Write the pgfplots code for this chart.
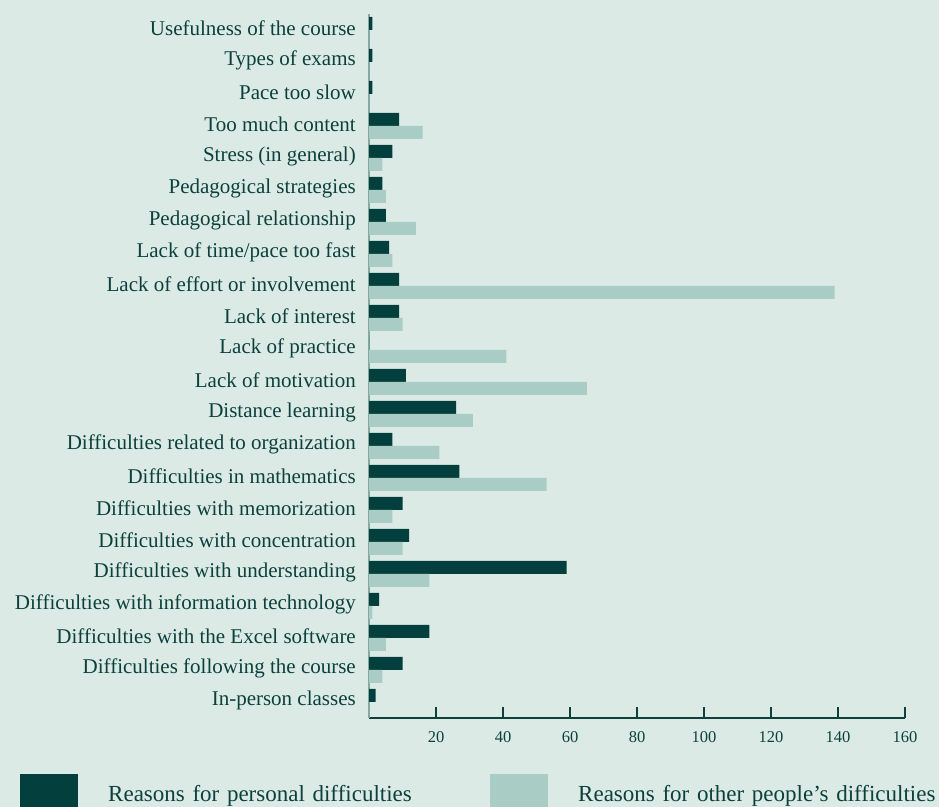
\documentclass[border=0pt]{standalone}
\usepackage{pgfplots}
\pgfplotsset{compat=1.18}
\usepackage{fontspec}
\setmainfont{Liberation Serif}
\definecolor{bg}{HTML}{DCEAE6}
\definecolor{darkbar}{HTML}{033F3C}
\definecolor{lightbar}{HTML}{A9CDC4}
\definecolor{txt}{HTML}{0B403C}
\definecolor{yaxis}{HTML}{86A8A1}
\begin{document}
\begin{tikzpicture}[x=1bp,y=1bp]
\fill[bg] (0,0) rectangle (939,807);
\begin{axis}[
  at={(369bp,89bp)}, anchor=south west,
  scale only axis, width=536bp, height=704bp,
  xbar, bar width=13bp,
  xmin=0, xmax=160, ymin=-0.5, ymax=21.5,
  axis x line*=bottom, axis y line*=left,
  x axis line style={draw=txt, line width=1.3bp, -},
  y axis line style={draw=yaxis, line width=1.3bp, -},
  xtick={20,40,...,160},
  ytick={0,...,21},
  yticklabels={In-person classes,Difficulties following the course,Difficulties with the Excel software,Difficulties with information technology,Difficulties with understanding,Difficulties with concentration,Difficulties with memorization,Difficulties in mathematics,Difficulties related to organization,Distance learning,Lack of motivation,Lack of practice,Lack of interest,Lack of effort or involvement,Lack of time/pace too fast,Pedagogical relationship,Pedagogical strategies,Stress (in general),Too much content,Pace too slow,Types of exams,Usefulness of the course},
  tick align=inside,
  major tick length=11bp,
  x tick style={draw=txt, line width=1.2bp},
  y tick style={draw=none},
  yticklabel style={font=\fontsize{21bp}{23bp}\selectfont, text=txt, inner sep=0pt, xshift=-13bp, yshift=2bp},
  xticklabel style={font=\fontsize{16.5bp}{18bp}\selectfont, text=txt, inner sep=0pt, yshift=-13bp},
  /pgf/number format/assume math mode=true,
  legend columns=2,
  legend style={draw=none, fill=none, at={(-0.6511,-0.0795)}, anchor=north west,
    font=\fontsize{23bp}{25bp}\selectfont, text=txt, inner sep=0pt, row sep=0pt,
    nodes={inner sep=0pt, anchor=base west},
    /tikz/every odd column/.append style={column sep=30bp},
    /tikz/every even column/.append style={column sep=0bp, text width=382bp}},
  legend image code/.code={\fill[#1] (0bp,-30bp) rectangle (58bp,27bp);},
]
\addplot[fill=darkbar, draw=none, bar shift=6.5bp] coordinates {
(2,0) (10,1) (18,2) (3,3) (59,4) (12,5) (10,6) (27,7) (7,8) (26,9) (11,10) (0,11) (9,12) (9,13) (6,14) (5,15) (4,16) (7,17) (9,18) (1,19) (1,20) (1,21)};
\addplot[fill=lightbar, draw=none, bar shift=-6.5bp] coordinates {
(0,0) (4,1) (5,2) (1,3) (18,4) (10,5) (7,6) (53,7) (21,8) (31,9) (65,10) (41,11) (10,12) (139,13) (7,14) (14,15) (5,16) (4,17) (16,18) (0,19) (0,20) (0,21)};
\addlegendentry{Reasons for personal difficulties}
\addlegendentry{Reasons for other people’s difficulties}
\end{axis}
\pgfresetboundingbox
\path[use as bounding box] (0,0) rectangle (939,807);
\end{tikzpicture}
\end{document}
